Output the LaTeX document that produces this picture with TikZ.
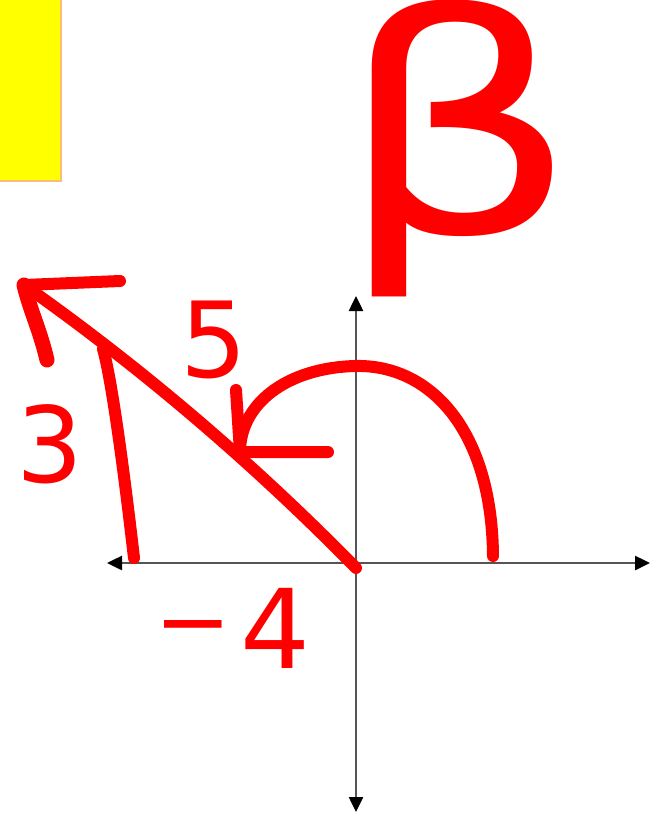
\documentclass[tikz,border=0pt]{standalone}
\usepackage{fontspec}
\setmainfont{DejaVu Sans}
\usetikzlibrary{arrows.meta}
\definecolor{hand}{RGB}{255,0,0}
\definecolor{axisgray}{RGB}{85,85,85}
\definecolor{boxyellow}{RGB}{255,255,0}
\definecolor{boxedge}{RGB}{250,190,120}
\tikzset{
  axisline/.style={draw=axisgray, line width=2.5pt, -{Triangle[length=15pt,width=14pt,color=black]}},
  ink/.style={draw=hand, line width=12pt, line cap=round, line join=round},
  handtext/.style={text=hand, inner sep=0pt, anchor=center},
}
\begin{document}
\begin{tikzpicture}[x=1pt,y=-1pt]
\useasboundingbox[fill=white] (0,0) rectangle (650,817);
% yellow box
\node[fill=boxyellow, draw=boxedge, line width=2pt, minimum width=64pt, minimum height=182pt, anchor=north east, inner sep=0pt] (box) at (62,-2) {};
% axes
\coordinate (O) at (356,563);
\coordinate (xl) at (107,563);
\coordinate (xr) at (650,563);
\coordinate (yt) at (356,296);
\coordinate (yb) at (356,812);
\draw[axisline] (O) -- (xr);
\draw[axisline] (O) -- (xl);
\draw[axisline] (O) -- (yt);
\draw[axisline] (O) -- (yb);
% hypotenuse with hand-drawn arrow
\coordinate (O2) at (356,568);
\coordinate (tip) at (24,285);
\coordinate (barbA) at (120,281);
\coordinate (barbB) at (47,360);
\draw[ink] (O2) .. controls (254,464) and (143,369) .. (tip);
\draw[ink] (tip) -- (barbA);
\draw[ink, line width=15pt] (tip) .. controls (30,310) and (40,330) .. (barbB);
% vertical leg
\coordinate (legtop) at (103,349);
\coordinate (legbot) at (134,558);
\draw[ink] (legtop) .. controls (112,380) and (125,480) .. (legbot);
% angle arc with arrow
\coordinate (arcstart) at (493,556);
\coordinate (arctop) at (355,366);
\coordinate (arcend) at (240,452);
\draw[ink] (arcstart) .. controls (492,430) and (430,364) .. (arctop)
  .. controls (285,368) and (240,405) .. (arcend);
\coordinate (abarbA) at (236,390);
\coordinate (abarbB) at (328,452);
\draw[ink] (abarbA) -- (arcend) -- (abarbB);
% labels
\node[handtext, font=\fontsize{105}{105}\selectfont] (five) at (214,340) {5};
\node[handtext, font=\fontsize{105}{105}\selectfont] (three) at (50,444) {3};
\node[handtext, font=\fontsize{110}{110}\selectfont] (mfour) at (234,628) {\raisebox{14pt}{\scalebox{1.3}[1]{–}}\hspace{12pt}4};
\node[handtext, font=\fontsize{305}{305}\selectfont, xscale=1.25] (beta) at (458,148) {β};
\end{tikzpicture}
\end{document}
